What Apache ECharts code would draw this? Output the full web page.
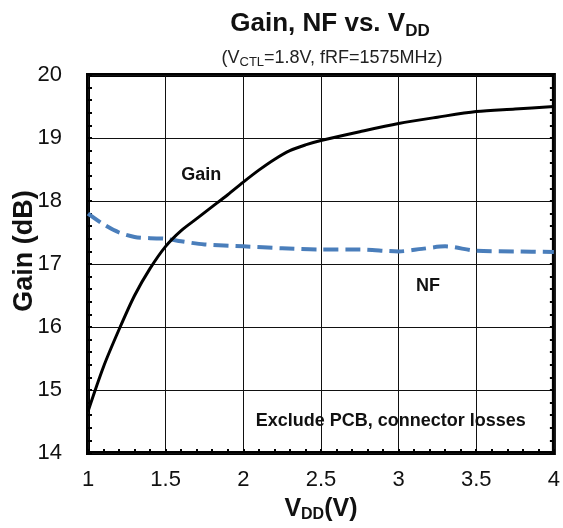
<!DOCTYPE html>
<html>
<head>
<meta charset="utf-8">
<script src="https://cdn.jsdelivr.net/npm/echarts@6/dist/echarts.min.js"></script>
<style>html,body{margin:0;padding:0;background:#fff;}#c{width:563px;height:528px;}</style>
</head>
<body>
<div id="c"></div>
<script>
const vddGain = [1.0, 1.1, 1.2, 1.3, 1.4, 1.5, 1.6, 1.7, 1.8, 1.9, 2.0, 2.1, 2.2, 2.3, 2.4, 2.5, 2.75, 3.0, 3.25, 3.5, 3.75, 4.0];
const gainDb  = [14.66, 15.37, 15.96, 16.5, 16.93, 17.28, 17.53, 17.72, 17.91, 18.1, 18.3, 18.49, 18.66, 18.8, 18.89, 18.96, 19.1, 19.23, 19.33, 19.42, 19.46, 19.5];
const vddNF   = [1.0, 1.1, 1.2, 1.3, 1.4, 1.5, 1.6, 1.75, 2.0, 2.25, 2.5, 2.75, 3.0, 3.15, 3.3, 3.5, 3.75, 4.0];
const nfDb    = [17.8, 17.63, 17.5, 17.43, 17.41, 17.4, 17.36, 17.31, 17.28, 17.25, 17.23, 17.23, 17.2, 17.24, 17.28, 17.21, 17.2, 17.19];
const xTicks = [1, 1.5, 2, 2.5, 3, 3.5, 4];
const yTicks = [14, 15, 16, 17, 18, 19, 20];
const notes = [
  {x: 1.73, y: 18.42, text: 'Gain'},
  {x: 3.19, y: 16.65, text: 'NF'},
  {x: 2.95, y: 14.5, text: 'Exclude PCB, connector losses'}
];

const chart = echarts.init(document.getElementById('c'));
const font = 'Liberation Sans, Arial, sans-serif';
const zip = (a, b) => a.map((v, i) => [v, b[i]]);
const tickStyle = {show: true, inside: true, length: 4, lineStyle: {color: '#000', width: 2}};
const minor = {show: true, splitNumber: 5, length: 4, lineStyle: {color: '#000', width: 2}};

chart.setOption({
  animation: false,
  backgroundColor: '#fff',
  grid: {left: 88, right: 7, top: 75, bottom: 73, show: true, borderColor: '#000', borderWidth: 4, backgroundColor: 'transparent'},
  xAxis: {
    type: 'value', min: xTicks[0], max: xTicks[xTicks.length - 1], interval: 0.5,
    axisLine: {show: false},
    axisTick: tickStyle,
    minorTick: minor,
    axisLabel: {fontSize: 22, color: '#111', fontFamily: font, margin: 16, showMinLabel: true, showMaxLabel: true},
    splitLine: {show: true, lineStyle: {color: '#111', width: 1}},
    name: 'V{s|DD}(V)', nameLocation: 'middle', nameGap: 42,
    nameTextStyle: {fontSize: 25, fontWeight: 'bold', color: '#111', fontFamily: font,
      rich: {s: {fontSize: 16, fontWeight: 'bold', color: '#111', fontFamily: font, verticalAlign: 'bottom', padding: [12, 0, 0, 0]}}}
  },
  yAxis: [{
    type: 'value', min: yTicks[0], max: yTicks[yTicks.length - 1], interval: 1,
    axisLine: {show: false},
    axisTick: tickStyle,
    minorTick: minor,
    axisLabel: {fontSize: 22, color: '#111', fontFamily: font, margin: 26},
    splitLine: {show: true, lineStyle: {color: '#111', width: 1}}
  }, {
    type: 'value', position: 'right', min: yTicks[0], max: yTicks[yTicks.length - 1], interval: 1,
    axisLine: {show: false}, axisTick: tickStyle, axisLabel: {show: false}, splitLine: {show: false},
    minorTick: minor
  }],
  graphic: [
    {type: 'text', x: 330, y: 24, style: {text: 'Gain, NF vs. V{s|DD}', align: 'center', verticalAlign: 'middle',
      font: 'bold 26px ' + font, fill: '#111',
      rich: {s: {font: 'bold 17px ' + font, fill: '#111', padding: [14, 0, 0, 0]}}}},
    {type: 'text', x: 332, y: 58, style: {text: '(V{s|CTL}=1.8V, fRF=1575MHz)', align: 'center', verticalAlign: 'middle',
      font: '18px ' + font, fill: '#222',
      rich: {s: {font: '13px ' + font, fill: '#222', padding: [8, 0, 0, 0]}}}},
    {type: 'text', x: 25, y: 251, rotation: Math.PI / 2, style: {text: 'Gain (dB)', align: 'center', verticalAlign: 'middle',
      font: 'bold 27px ' + font, fill: '#111'}}
  ],
  series: [
    {type: 'line', name: 'Gain', data: zip(vddGain, gainDb), smooth: 0.3, symbol: 'none',
      lineStyle: {color: '#000', width: 3}, z: 3},
    {type: 'line', name: 'NF', data: zip(vddNF, nfDb), smooth: 0.3, symbol: 'none',
      lineStyle: {color: '#4a7ebb', width: 4, type: [15, 7]}, z: 2},
    {type: 'scatter', data: notes.map(n => ({value: [n.x, n.y], label: {formatter: n.text}})),
      symbolSize: 1, silent: true, itemStyle: {opacity: 0},
      label: {show: true, position: 'inside', fontSize: 18, fontWeight: 'bold', color: '#111', opacity: 1, fontFamily: font}}
  ]
});
</script>
</body>
</html>
